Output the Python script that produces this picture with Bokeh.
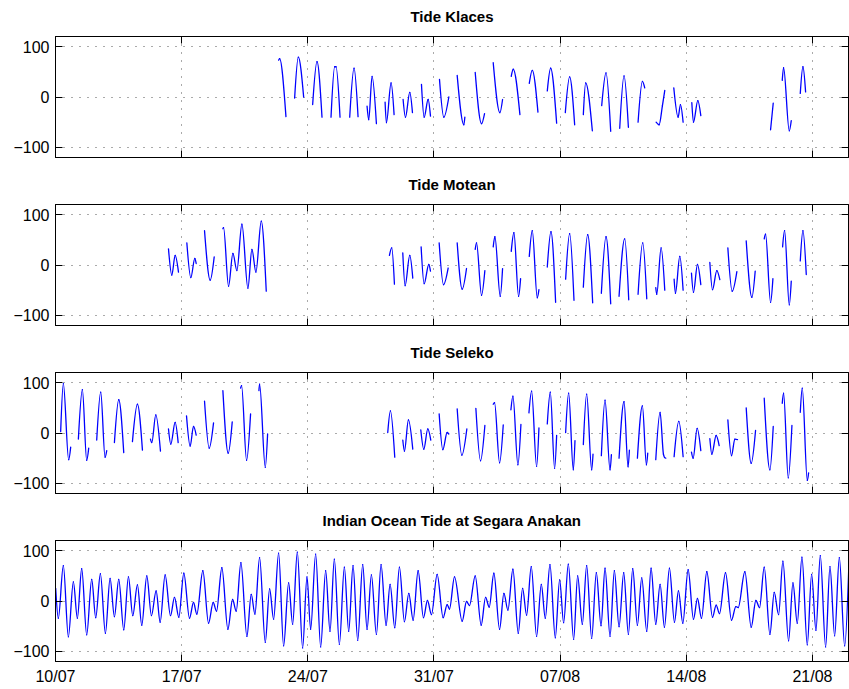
import numpy as np
from bokeh.plotting import figure
from bokeh.layouts import column
from bokeh.models import FixedTicker, LinearAxis, Range1d, ColumnDataSource, CustomJSTickFormatter
from bokeh.core.properties import value
from bokeh.embed import file_html
from bokeh.resources import INLINE

# ---------------- data (time in days since 10/07 00:00, water level in cm) ----------------
x_tick_days = [0, 7, 14, 21, 28, 35, 42]
x_tick_labels = ["10/07", "17/07", "24/07", "31/07", "07/08", "14/08", "21/08"]
y_ticks = [-100, 0, 100]
y_tick_labels = ["\u2212100", "0", "100"]
titles = ["Tide Klaces", "Tide Motean", "Tide Seleko", "Indian Ocean Tide at Segara Anakan"]

klaces_days = [
    [12.38, 12.435, 12.787], [13.269, 13.472, 13.769], [14.269, 14.509, 14.787],
    [15.287, 15.491, 15.565, 15.787], [16.324, 16.565, 16.787], [17.287, 17.38, 17.565, 17.806],
    [18.287, 18.361, 18.62, 18.787], [19.287, 19.417, 19.657, 19.806], [20.306, 20.454, 20.676, 20.806],
    [21.306, 21.546, 21.824], [22.287, 22.657, 22.713], [23.287, 23.639, 23.806],
    [24.287, 24.657, 24.806], [25.287, 25.398, 25.769], [26.287, 26.454, 26.769],
    [27.287, 27.472, 27.806], [28.287, 28.528, 28.806], [29.287, 29.417, 29.787],
    [30.306, 30.546, 30.806], [31.306, 31.546, 31.787], [32.324, 32.565, 32.694],
    [33.324, 33.491, 33.676, 33.806], [34.306, 34.546, 34.676, 34.824], [35.306, 35.398, 35.639, 35.806],
    [39.676, 39.824], [40.324, 40.398, 40.713, 40.824], [41.324, 41.472, 41.62],
]
klaces_cm = [
    [73, 76, -39], [-2, 79, 0], [-15, 70, -40],
    [-40, 60, 60, -40], [-40, 57, -39], [-18, -45, 41, -53],
    [-10, -51, 28, -35], [-5, -40, 9, -31], [25, -40, -5, -38],
    [35, -40, 0], [43, -55, -40], [49, -53, -33],
    [68, -31, -5], [41, 55, -35], [27, 53, -30],
    [12, 57, -52], [-31, 40, -55], [-35, 28, -67],
    [-17, 48, -68], [-62, 42, -60], [-50, 31, 18],
    [-50, -55, -17, 13], [18, -40, -15, -50], [-11, -50, -7, -37],
    [-65, -12], [33, 58, -67, -47], [7, 60, 10],
]

motean_days = [
    [6.269, 6.454, 6.639, 6.824], [7.287, 7.509, 7.731, 7.806], [8.269, 8.583, 8.806],
    [9.287, 9.324, 9.602, 9.843, 10.065, 10.343, 10.676, 10.898, 11.12, 11.417, 11.694],
    [18.528, 18.657, 18.806], [19.269, 19.398, 19.657, 19.824], [20.287, 20.454, 20.713, 20.806],
    [21.287, 21.528, 21.787], [22.287, 22.565, 22.806], [23.287, 23.361, 23.639, 23.824],
    [24.287, 24.38, 24.676, 24.806], [25.287, 25.435, 25.694, 25.806], [26.287, 26.454, 26.731, 26.824],
    [27.287, 27.491, 27.75], [28.306, 28.528, 28.769], [29.287, 29.528, 29.806],
    [30.287, 30.546, 30.806], [31.269, 31.583, 31.806], [32.324, 32.583, 32.806],
    [33.306, 33.361, 33.602, 33.806], [34.324, 34.398, 34.639, 34.824], [35.287, 35.398, 35.62, 35.806],
    [36.306, 36.454, 36.694, 36.861], [37.306, 37.546, 37.806], [38.324, 38.639, 38.824],
    [39.324, 39.398, 39.676, 39.806], [40.343, 40.454, 40.713, 40.824], [41.324, 41.472, 41.657],
]
motean_cm = [
    [32, -20, 19, -14], [44, -25, 13, 3], [68, -30, 16],
    [72, 74, -42, 23, -11, 81, -46, 31, -14, 87, -52],
    [19, 34, -38], [24, -41, 19, -26], [36, -37, 1, -12],
    [44, -39, -6], [44, -48, -7], [31, 44, -60, -11],
    [36, 56, -62, -7], [27, 64, -62, -27], [17, 68, -65, -49],
    [-4, 66, -74], [-28, 62, -70], [-44, 60, -75],
    [-56, 56, -77], [-62, 52, -69], [-58, 44, -67],
    [-45, -58, 34, -50], [-28, -56, 17, -50], [-16, -54, 1, -39],
    [5, -49, -11, -29], [34, -52, -13], [48, -64, -12],
    [52, 61, -74, -27], [36, 68, -79, -32], [8, 68, -19],
]

seleko_days = [
    [0.287, 0.435, 0.731, 0.843], [1.269, 1.491, 1.731, 1.843], [2.287, 2.509, 2.75, 2.843],
    [3.269, 3.509, 3.787], [4.269, 4.546, 4.824], [5.269, 5.343, 5.565, 5.824],
    [6.269, 6.398, 6.639, 6.806], [7.269, 7.472, 7.657, 7.806], [8.269, 8.528, 8.769],
    [9.287, 9.583, 9.806], [10.269, 10.324, 10.602, 10.824], [11.287, 11.324, 11.639, 11.769],
    [18.435, 18.583, 18.824], [19.269, 19.361, 19.583, 19.824], [20.269, 20.435, 20.657, 20.824],
    [21.287, 21.491, 21.731, 21.824], [22.287, 22.546, 22.824], [23.324, 23.583, 23.824],
    [24.287, 24.361, 24.639, 24.843], [25.269, 25.38, 25.657, 25.824], [26.269, 26.417, 26.694, 26.824],
    [27.287, 27.454, 27.694, 27.806], [28.306, 28.472, 28.731, 28.824], [29.287, 29.472, 29.75, 29.824],
    [30.287, 30.491, 30.769, 30.843], [31.269, 31.546, 31.769, 31.843], [32.287, 32.565, 32.787, 32.861],
    [33.306, 33.546, 33.731, 33.861], [34.324, 34.583, 34.824], [35.287, 35.38, 35.602, 35.806],
    [36.306, 36.417, 36.657, 36.824], [37.306, 37.509, 37.694, 37.843], [38.324, 38.602, 38.843],
    [39.324, 39.639, 39.824], [40.324, 40.398, 40.657, 40.861], [41.324, 41.435, 41.713, 41.787],
]
seleko_cm = [
    [3, 98, -53, -28], [-12, 86, -54, -30], [-14, 81, -48, -35],
    [-19, 66, -39], [-17, 57, -34], [-12, -19, 36, -36],
    [8, -22, 21, -19], [34, -26, 13, -4], [63, -30, 20],
    [84, -40, 22], [89, 94, -54, 38], [84, 97, -68, -2],
    [1, 44, -48], [-14, -36, 26, -32], [6, -32, 8, -14],
    [38, -33, 1, -2], [48, -44, 8], [49, -55, 15],
    [57, 60, -59, 16], [46, 73, -63, 17], [40, 83, -66, 10],
    [18, 81, -70, -5], [1, 79, -73, -15], [-23, 77, -73, -42],
    [-45, 65, -73, -43], [-50, 62, -67, -34], [-50, 54, -63, -40],
    [-53, 41, -42, -50], [-47, 23, -47], [-38, -50, 9, -35],
    [-11, -42, -5, -25], [26, -45, -12, -13], [50, -60, 5],
    [69, -73, 13], [59, 79, -89, 15], [41, 89, -94, -79],
]

ocean_days = [[
    0.01, 0.157, 0.435, 0.713, 0.991, 1.213, 1.454, 1.731, 2.009, 2.231,
    2.491, 2.769, 3.028, 3.269, 3.509, 3.787, 4.046, 4.287, 4.546, 4.787,
    5.065, 5.324, 5.583, 5.806, 6.083, 6.38, 6.602, 6.843, 7.12, 7.435,
    7.657, 7.843, 8.176, 8.491, 8.75, 8.935, 9.231, 9.565, 9.824, 10.028,
    10.287, 10.62, 10.861, 11.065, 11.324, 11.639, 11.88, 12.102, 12.38, 12.657,
    12.935, 13.157, 13.417, 13.713, 13.954, 14.157, 14.435, 14.713, 14.991, 15.231,
    15.472, 15.75, 16.028, 16.269, 16.509, 16.769, 17.046, 17.287, 17.528, 17.806,
    18.065, 18.343, 18.565, 18.824, 19.083, 19.361, 19.602, 19.843, 20.12, 20.417,
    20.639, 20.861, 21.176, 21.509, 21.731, 21.861, 22.139, 22.565, 22.806, 22.972,
    23.287, 23.62, 23.861, 24.065, 24.324, 24.639, 24.88, 25.102, 25.38, 25.676,
    25.917, 26.139, 26.398, 26.694, 26.954, 27.176, 27.435, 27.731, 27.972, 28.194,
    28.454, 28.75, 28.972, 29.231, 29.472, 29.75, 30.009, 30.269, 30.491, 30.769,
    31.009, 31.269, 31.528, 31.787, 32.028, 32.287, 32.528, 32.806, 33.046, 33.306,
    33.546, 33.787, 34.065, 34.343, 34.565, 34.806, 35.102, 35.398, 35.62, 35.843,
    36.139, 36.454, 36.657, 36.843, 37.176, 37.509, 37.75, 37.88, 38.25, 38.602,
    38.861, 39.065, 39.324, 39.639, 39.88, 40.12, 40.361, 40.676, 40.917, 41.157,
    41.417, 41.713, 41.954, 42.194, 42.435, 42.731, 42.972, 43.231, 43.491, 43.787,
    44.028,
]]
ocean_cm = [[
    25, -34, 70, -71, 38, -34, 64, -67, 43, -33,
    54, -64, 45, -31, 43, -57, 48, -29, 32, -48,
    50, -29, 20, -42, 52, -29, 7, -32, 55, -34,
    -3, -26, 60, -44, -3, -20, 66, -56, 3, -20,
    76, -70, 13, -26, 86, -82, 24, -36, 95, -89,
    36, -46, 97, -93, 48, -56, 93, -91, 60, -60,
    83, -86, 67, -60, 70, -78, 72, -56, 52, -66,
    72, -48, 33, -53, 67, -41, 15, -38, 60, -33,
    1, -27, 53, -33, -7, -16, 48, -40, -1, -9,
    50, -48, 7, -12, 55, -56, 15, -18, 63, -64,
    25, -28, 68, -70, 33, -34, 72, -73, 42, -43,
    73, -76, 50, -46, 70, -74, 56, -49, 65, -70,
    60, -51, 56, -66, 64, -48, 46, -60, 65, -46,
    33, -52, 65, -42, 20, -44, 62, -36, 5, -34,
    58, -32, -8, -25, 56, -38, -11, -13, 58, -52,
    1, -13, 67, -66, 17, -27, 79, -79, 36, -44,
    87, -87, 53, -58, 90, -91, 68, -69, 86, -89,
    79,
]]

series_days = [klaces_days, motean_days, seleko_days, ocean_days]
series_cm = [klaces_cm, motean_cm, seleko_cm, ocean_cm]

FONT = "Liberation Sans"
LINE_BLUE = "#0000ff"
FRAME_H = 121


def smooth_source(seg_t, seg_v):
    """Cubic Hermite (as Bezier) pieces through the read extrema of each segment."""
    cols = {k: [] for k in ("x0", "y0", "x1", "y1", "cx0", "cy0", "cx1", "cy1")}
    for ts, vs in zip(seg_t, seg_v):
        x = np.asarray(ts, float)
        y = np.asarray(vs, float)
        assert len(x) == len(y), (len(x), len(y))
        n = len(x)
        if n < 2:
            continue
        d = np.diff(y) / np.diff(x)
        m = np.zeros(n)
        for i in range(1, n - 1):
            if d[i - 1] * d[i] > 0:
                s = (y[i + 1] - y[i - 1]) / (x[i + 1] - x[i - 1])
                lim = 3 * min(abs(d[i - 1]), abs(d[i]))
                m[i] = np.sign(s) * min(abs(s), lim)
        if n == 2:
            m[0] = m[1] = d[0]
        else:
            m[0] = 1.5 * d[0] - 0.5 * m[1]
            m[-1] = 1.5 * d[-1] - 0.5 * m[-2]
            if m[0] * d[0] < 0:
                m[0] = 0
            if m[-1] * d[-1] < 0:
                m[-1] = 0
        for i in range(n - 1):
            h = x[i + 1] - x[i]
            cols["x0"].append(x[i]); cols["y0"].append(y[i])
            cols["x1"].append(x[i + 1]); cols["y1"].append(y[i + 1])
            cols["cx0"].append(x[i] + h / 3); cols["cy0"].append(y[i] + m[i] * h / 3)
            cols["cx1"].append(x[i + 1] - h / 3); cols["cy1"].append(y[i + 1] - m[i + 1] * h / 3)
    return ColumnDataSource(cols)


def style_axis(ax, show_labels):
    ax.axis_line_color = "black"
    ax.axis_line_width = 1
    ax.major_tick_line_color = "black"
    ax.major_tick_in = 7
    ax.major_tick_out = 0
    ax.minor_tick_in = 0
    ax.minor_tick_out = 0
    ax.minor_tick_line_color = None
    if show_labels:
        ax.major_label_text_font = FONT
        ax.major_label_text_font_size = "16px"
        ax.major_label_text_color = "black"
    else:
        ax.formatter = CustomJSTickFormatter(code="return ''")
        ax.major_label_text_font_size = "0px"
        ax.major_label_standoff = 0


def make_title(k):
    t = figure(width=849, height=32, x_range=Range1d(0, 1), y_range=Range1d(0, 1),
               output_backend="svg", toolbar_location=None,
               min_border_left=55, min_border_right=1, min_border_top=0, min_border_bottom=0,
               background_fill_color="white", border_fill_color="white")
    t.axis.visible = False
    t.grid.visible = False
    t.outline_line_color = None
    src = ColumnDataSource(dict(x=[0.5], y=[0.5], text=[titles[k]]))
    t.text(x="x", y="y", text="text", source=src, text_align="center", text_baseline="middle",
           text_font=value(FONT), text_font_size=value("15px"), text_font_style="bold",
           text_color="black")
    return t


def make_panel(k):
    last = (k == 3)
    bottom = 28 if last else 11
    p = figure(width=849, height=4 + FRAME_H + bottom,
               x_range=Range1d(0, 44), y_range=Range1d(-120, 120),
               output_backend="svg", toolbar_location=None,
               min_border_left=55, min_border_right=1, min_border_top=4,
               min_border_bottom=bottom,
               background_fill_color="white", border_fill_color="white")
    p.outline_line_color = "black"
    p.outline_line_width = 1
    p.outline_line_alpha = 1

    xt = FixedTicker(ticks=x_tick_days)
    yt = FixedTicker(ticks=y_ticks)
    p.xaxis.ticker = xt
    p.yaxis.ticker = yt
    p.xgrid.ticker = xt
    p.ygrid.ticker = yt
    for g in (p.xgrid, p.ygrid):
        g.grid_line_color = "#555555"
        g.grid_line_dash = "1 7"
        g.grid_line_width = 1

    style_axis(p.yaxis[0], True)
    p.yaxis.major_label_overrides = dict(zip(y_ticks, y_tick_labels))
    p.yaxis.major_label_standoff = 6
    style_axis(p.xaxis[0], last)
    if last:
        p.xaxis.major_label_overrides = dict(zip(x_tick_days, x_tick_labels))
        p.xaxis.major_label_standoff = 6

    top = LinearAxis(ticker=FixedTicker(ticks=x_tick_days))
    style_axis(top, False)
    p.add_layout(top, "above")
    right = LinearAxis(ticker=FixedTicker(ticks=y_ticks))
    style_axis(right, False)
    p.add_layout(right, "right")

    src = smooth_source(series_days[k], series_cm[k])
    p.bezier(x0="x0", y0="y0", x1="x1", y1="y1", cx0="cx0", cy0="cy0", cx1="cx1", cy1="cy1",
             source=src, line_color=LINE_BLUE, line_width=1.3, line_cap="round")
    return p


children = []
for k in range(4):
    children.append(make_title(k))
    children.append(make_panel(k))
layout = column(*children, spacing=0)
open("out.html", "w").write(file_html(layout, INLINE))
